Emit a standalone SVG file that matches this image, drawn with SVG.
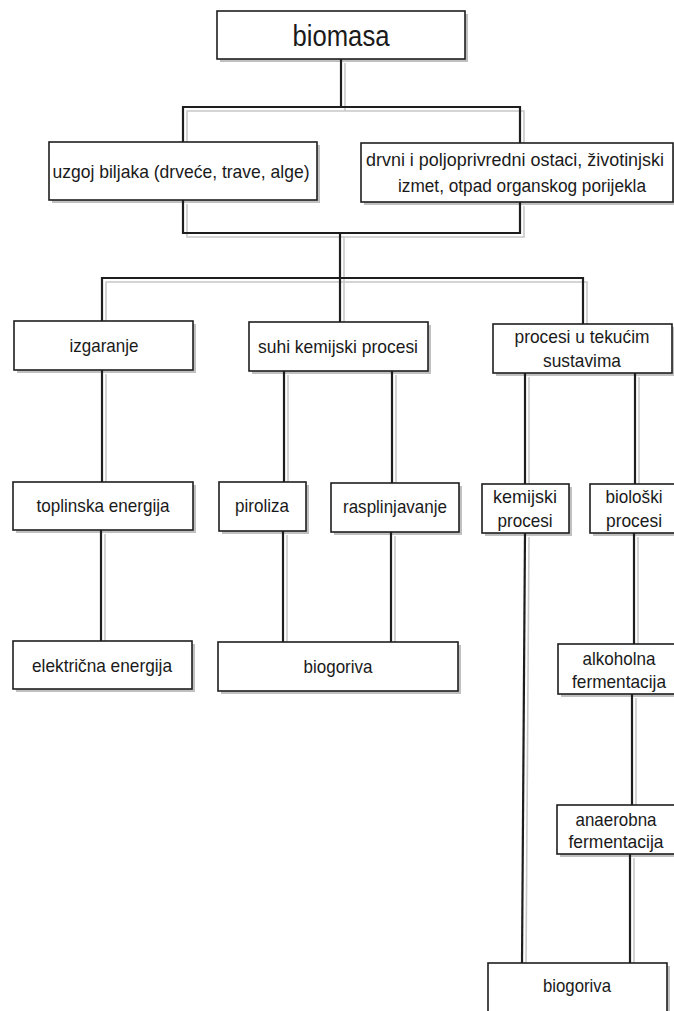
<svg xmlns="http://www.w3.org/2000/svg" width="674" height="1011" viewBox="0 0 674 1011">
<defs>
<style>
.bg{fill:#ffffff}
.bs{fill:#c0c0c0}
.box{fill:#ffffff;stroke:#1e1e1e;stroke-width:1.6}
.conn path{fill:none;stroke:#1e1e1e;stroke-width:2.2}
.csh path{fill:none;stroke:#c8c8c8;stroke-width:1.6}
text{font-family:"Liberation Sans",Arial,sans-serif;font-size:19px;fill:#1a1a1a;text-anchor:middle}
.big{font-size:29px}
.sm{font-size:18px}
</style>
</defs>
<rect class="bg" x="0" y="0" width="674" height="1011"/>
<g id="box-shadows">
<rect class="bs" x="220" y="14" width="248" height="48"/>
<rect class="bs" x="52" y="145" width="268" height="58"/>
<rect class="bs" x="364" y="146" width="312" height="59"/>
<rect class="bs" x="17" y="324" width="179" height="49"/>
<rect class="bs" x="252" y="325" width="179" height="49"/>
<rect class="bs" x="496" y="327" width="179" height="49"/>
<rect class="bs" x="16" y="485" width="180" height="48"/>
<rect class="bs" x="222" y="485" width="87" height="49"/>
<rect class="bs" x="334" y="486" width="128" height="49"/>
<rect class="bs" x="485" y="487" width="87" height="49"/>
<rect class="bs" x="593" y="487" width="86" height="49"/>
<rect class="bs" x="16" y="644" width="179" height="48"/>
<rect class="bs" x="221" y="645" width="240" height="49"/>
<rect class="bs" x="561" y="647" width="120" height="50"/>
<rect class="bs" x="560" y="808" width="120" height="49"/>
<rect class="bs" x="491" y="966" width="179" height="50"/>
</g>
<g id="connector-shadows" class="csh" transform="translate(4,4)">
<path d="M341 59 V107"/>
<path d="M183 142 V107 H520 V143"/>
<path d="M183 200 V233 H520 V202"/>
<path d="M340 233 V278"/>
<path d="M102 321 V278 H583 V324"/>
<path d="M340 278 V322"/>
<path d="M102 370 V482"/>
<path d="M101 530 V641"/>
<path d="M284 371 V482"/>
<path d="M392 371 V483"/>
<path d="M283 531 V642"/>
<path d="M391 532 V642"/>
<path d="M525 373 V484"/>
<path d="M635 373 V484"/>
<path d="M525 533 L522 963"/>
<path d="M634 533 V644"/>
<path d="M632 694 V805"/>
<path d="M630 854 V963"/>
</g>
<g id="connectors" class="conn">
<path d="M341 59 V107"/>
<path d="M183 142 V107 H520 V143"/>
<path d="M183 200 V233 H520 V202"/>
<path d="M340 233 V278"/>
<path d="M102 321 V278 H583 V324"/>
<path d="M340 278 V322"/>
<path d="M102 370 V482"/>
<path d="M101 530 V641"/>
<path d="M284 371 V482"/>
<path d="M392 371 V483"/>
<path d="M283 531 V642"/>
<path d="M391 532 V642"/>
<path d="M525 373 V484"/>
<path d="M635 373 V484"/>
<path d="M525 533 L522 963"/>
<path d="M634 533 V644"/>
<path d="M632 694 V805"/>
<path d="M630 854 V963"/>
</g>
<g id="node-biomasa">
<rect class="box" x="217" y="11" width="248" height="48"/>
<text class="big" x="341" y="46" textLength="97" lengthAdjust="spacingAndGlyphs">biomasa</text>
</g>
<g id="node-uzgoj">
<rect class="box" x="49" y="142" width="268" height="58"/>
<text x="181" y="178" textLength="257" lengthAdjust="spacingAndGlyphs">uzgoj biljaka (drveće, trave, alge)</text>
</g>
<g id="node-ostaci">
<rect class="box" x="361" y="143" width="312" height="59"/>
<text class="sm" x="515" y="166" textLength="298" lengthAdjust="spacingAndGlyphs">drvni i poljoprivredni ostaci, životinjski</text>
<text class="sm" x="522" y="192" textLength="248" lengthAdjust="spacingAndGlyphs">izmet, otpad organskog porijekla</text>
</g>
<g id="node-izgaranje">
<rect class="box" x="14" y="321" width="179" height="49"/>
<text x="104" y="352" textLength="69" lengthAdjust="spacingAndGlyphs">izgaranje</text>
</g>
<g id="node-suhi">
<rect class="box" x="249" y="322" width="179" height="49"/>
<text x="338" y="353" textLength="160" lengthAdjust="spacingAndGlyphs">suhi kemijski procesi</text>
</g>
<g id="node-tekuci">
<rect class="box" x="493" y="324" width="179" height="49"/>
<text x="582" y="343" textLength="135" lengthAdjust="spacingAndGlyphs">procesi u tekućim</text>
<text x="582" y="367" textLength="78" lengthAdjust="spacingAndGlyphs">sustavima</text>
</g>
<g id="node-toplinska">
<rect class="box" x="13" y="482" width="180" height="48"/>
<text x="103" y="512" textLength="133" lengthAdjust="spacingAndGlyphs">toplinska energija</text>
</g>
<g id="node-piroliza">
<rect class="box" x="219" y="482" width="87" height="49"/>
<text x="262" y="512" textLength="54" lengthAdjust="spacingAndGlyphs">piroliza</text>
</g>
<g id="node-rasplinjavanje">
<rect class="box" x="331" y="483" width="128" height="49"/>
<text x="395" y="513" textLength="104" lengthAdjust="spacingAndGlyphs">rasplinjavanje</text>
</g>
<g id="node-kemijski">
<rect class="box" x="482" y="484" width="87" height="49"/>
<text x="525" y="503" textLength="64" lengthAdjust="spacingAndGlyphs">kemijski</text>
<text x="525" y="527" textLength="55" lengthAdjust="spacingAndGlyphs">procesi</text>
</g>
<g id="node-bioloski">
<rect class="box" x="590" y="484" width="86" height="49"/>
<text x="634" y="503" textLength="57" lengthAdjust="spacingAndGlyphs">biološki</text>
<text x="634" y="527" textLength="56" lengthAdjust="spacingAndGlyphs">procesi</text>
</g>
<g id="node-elektricna">
<rect class="box" x="13" y="641" width="179" height="48"/>
<text x="102" y="672" textLength="140" lengthAdjust="spacingAndGlyphs">električna energija</text>
</g>
<g id="node-biogoriva-1">
<rect class="box" x="218" y="642" width="240" height="49"/>
<text x="338" y="673" textLength="69" lengthAdjust="spacingAndGlyphs">biogoriva</text>
</g>
<g id="node-alkoholna">
<rect class="box" x="558" y="644" width="120" height="50"/>
<text x="619" y="665" textLength="73" lengthAdjust="spacingAndGlyphs">alkoholna</text>
<text x="619" y="688" textLength="94" lengthAdjust="spacingAndGlyphs">fermentacija</text>
</g>
<g id="node-anaerobna">
<rect class="box" x="557" y="805" width="120" height="49"/>
<text x="616" y="826" textLength="81" lengthAdjust="spacingAndGlyphs">anaerobna</text>
<text x="616" y="848" textLength="95" lengthAdjust="spacingAndGlyphs">fermentacija</text>
</g>
<g id="node-biogoriva-2">
<rect class="box" x="488" y="963" width="179" height="50"/>
<text x="577" y="992" textLength="68" lengthAdjust="spacingAndGlyphs">biogoriva</text>
</g>
</svg>
